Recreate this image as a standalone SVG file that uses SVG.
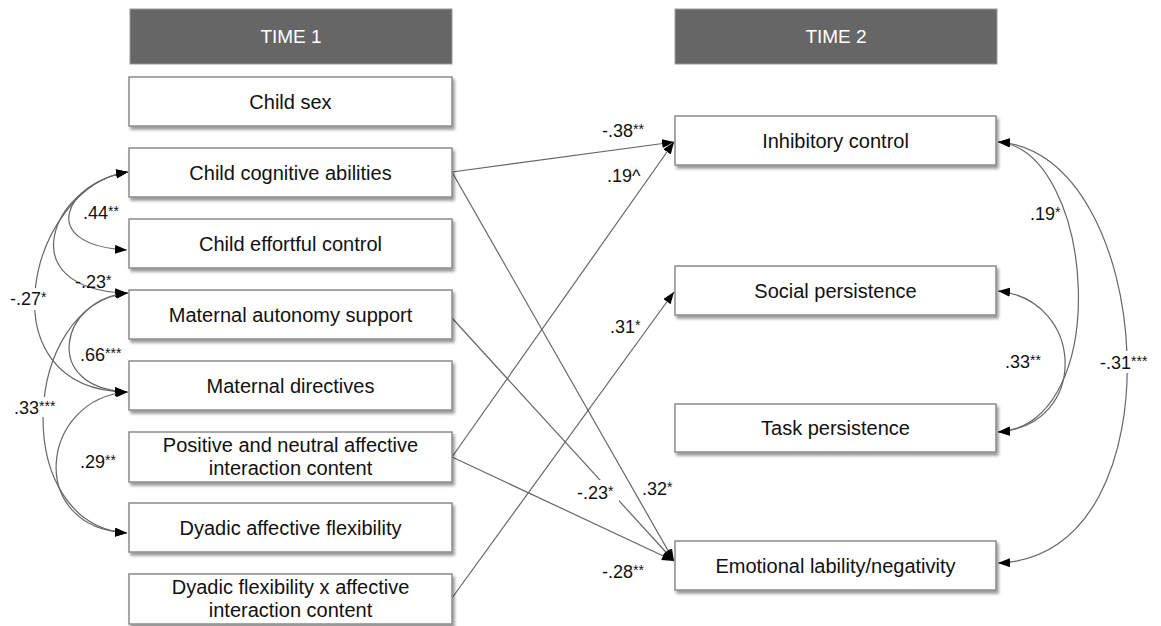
<svg xmlns="http://www.w3.org/2000/svg" width="1161" height="626" viewBox="0 0 1161 626">
<defs>
<style>
.hdr{fill:#666;stroke:#999;stroke-width:1}
.hdrt{font-family:"Liberation Sans",Arial,sans-serif;font-size:19px;fill:#fff;text-anchor:middle}
.box{fill:#fff;stroke:#8a8a8a;stroke-width:1.5;filter:url(#sh)}
.bt{font-family:"Liberation Sans",Arial,sans-serif;font-size:20px;fill:#111;text-anchor:middle}
.ln{fill:none;stroke:#666;stroke-width:1.2}
.arr{marker-end:url(#ah)}
.dbl{marker-start:url(#ah);marker-end:url(#ah)}
.lab{font-family:"Liberation Sans",Arial,sans-serif;font-size:18px;fill:#111}
.st{font-size:14px}
.bg{fill:#fff}
</style>
<filter id="sh" x="-5%" y="-20%" width="112%" height="150%">
<feDropShadow dx="2" dy="3" stdDeviation="1.5" flood-color="#000" flood-opacity="0.4"/>
</filter>
<marker id="ah" markerUnits="userSpaceOnUse" markerWidth="13" markerHeight="10" refX="12" refY="4.5" orient="auto-start-reverse">
<path d="M0,0 L12,4.5 L0,9 z" fill="#000"/>
</marker>
</defs>

<g id="header-time1"><rect class="hdr" x="130" y="9" width="322" height="55"/><text class="hdrt" x="291" y="43">TIME 1</text></g>
<g id="header-time2"><rect class="hdr" x="675" y="9" width="322" height="55"/><text class="hdrt" x="836" y="43">TIME 2</text></g>

<g id="connectors">
<path class="ln arr" d="M452,172 L674,142"/>
<path class="ln arr" d="M452,457 L674,142"/>
<path class="ln arr" d="M452,598 L674,292"/>
<path class="ln arr" d="M452,172 L674,561"/>
<path class="ln arr" d="M452,318 L674,561"/>
<path class="ln arr" d="M452,457 L674,561"/>
<path class="ln dbl" d="M128,172 C65,182 35,245 127,250"/>
<path class="ln dbl" d="M128,172 C50,185 10,290 127,293"/>
<path class="ln dbl" d="M128,172 C30,185 -20,390 127,392"/>
<path class="ln dbl" d="M128,293 C60,298 40,388 127,392"/>
<path class="ln dbl" d="M128,293 C20,305 10,525 127,533"/>
<path class="ln dbl" d="M128,392 C40,398 25,528 127,533"/>
<path class="ln dbl" d="M998,142 C1095,150 1115,425 998,432"/>
<path class="ln dbl" d="M998,291 C1085,300 1090,425 998,432"/>
<path class="ln dbl" d="M998,142 C1155,150 1185,558 998,563"/>

<text class="lab" x="602" y="137">-.38<tspan class="st" dy="-3">**</tspan></text>
<text class="lab" x="607" y="182">.19^</text>
<text class="lab" x="610" y="333">.31<tspan class="st" dy="-3">*</tspan></text>
<rect class="bg" x="576" y="480" width="43" height="24"/>
<text class="lab" x="577" y="499">-.23<tspan class="st" dy="-3">*</tspan></text>
<text class="lab" x="642" y="495">.32<tspan class="st" dy="-3">*</tspan></text>
<text class="lab" x="602" y="578">-.28<tspan class="st" dy="-3">**</tspan></text>

<text class="lab" x="83" y="219">.44<tspan class="st" dy="-3">**</tspan></text>
<text class="lab" x="75" y="288">-.23<tspan class="st" dy="-3">*</tspan></text>
<rect class="bg" x="8" y="288" width="46" height="22"/>
<text class="lab" x="10" y="305">-.27<tspan class="st" dy="-3">*</tspan></text>
<text class="lab" x="80" y="361">.66<tspan class="st" dy="-3">***</tspan></text>
<rect class="bg" x="13" y="397" width="52" height="20"/>
<text class="lab" x="14" y="414">.33<tspan class="st" dy="-3">***</tspan></text>
<text class="lab" x="80" y="468">.29<tspan class="st" dy="-3">**</tspan></text>

<text class="lab" x="1030" y="220">.19<tspan class="st" dy="-3">*</tspan></text>
<text class="lab" x="1005" y="368">.33<tspan class="st" dy="-3">**</tspan></text>
<rect class="bg" x="1098" y="351" width="54" height="22"/>
<text class="lab" x="1100" y="369">-.31<tspan class="st" dy="-3">***</tspan></text>
</g>

<g id="child-sex"><rect class="box" x="129" y="77" width="323" height="49"/><text class="bt" x="290.5" y="109">Child sex</text></g>
<g id="child-cognitive"><rect class="box" x="129" y="148" width="323" height="49"/><text class="bt" x="290.5" y="180">Child cognitive abilities</text></g>
<g id="child-effortful"><rect class="box" x="129" y="219" width="323" height="49"/><text class="bt" x="290.5" y="251">Child effortful control</text></g>
<g id="maternal-autonomy"><rect class="box" x="129" y="290" width="323" height="49"/><text class="bt" x="290.5" y="322">Maternal autonomy support</text></g>
<g id="maternal-directives"><rect class="box" x="129" y="361" width="323" height="49"/><text class="bt" x="290.5" y="393">Maternal directives</text></g>
<g id="positive-neutral"><rect class="box" x="129" y="432" width="323" height="50"/><text class="bt" x="290.5" y="452">Positive and neutral affective</text><text class="bt" x="290.5" y="475">interaction content</text></g>
<g id="dyadic-affective"><rect class="box" x="129" y="503" width="323" height="49"/><text class="bt" x="290.5" y="535">Dyadic affective flexibility</text></g>
<g id="dyadic-x"><rect class="box" x="129" y="574" width="323" height="50"/><text class="bt" x="290.5" y="594">Dyadic flexibility x affective</text><text class="bt" x="290.5" y="617">interaction content</text></g>

<g id="inhibitory"><rect class="box" x="675" y="116" width="321" height="49"/><text class="bt" x="835.5" y="148">Inhibitory control</text></g>
<g id="social"><rect class="box" x="675" y="266" width="321" height="49"/><text class="bt" x="835.5" y="298">Social persistence</text></g>
<g id="task"><rect class="box" x="675" y="404" width="321" height="48"/><text class="bt" x="835.5" y="435">Task persistence</text></g>
<g id="emotional"><rect class="box" x="675" y="541" width="321" height="49"/><text class="bt" x="835.5" y="573">Emotional lability/negativity</text></g>
</svg>
